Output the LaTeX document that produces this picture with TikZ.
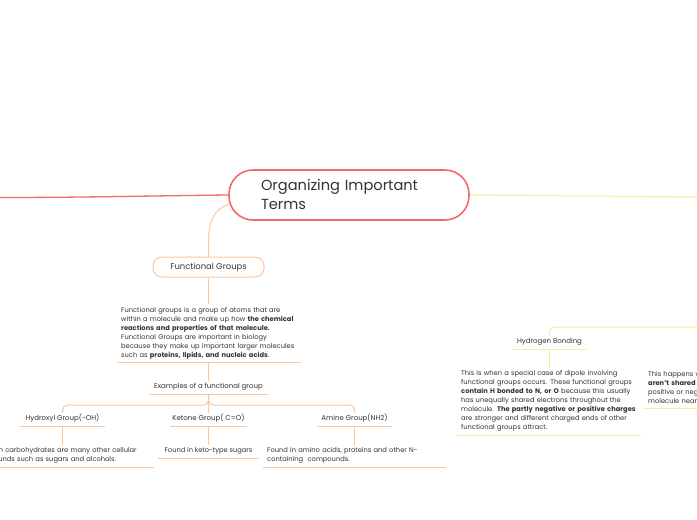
\documentclass[tikz,border=0pt]{standalone}
\usepackage{fontspec}
\setmainfont{Poppins}
\usetikzlibrary{calc}
\definecolor{rootred}{HTML}{F26B6B}
\definecolor{orng}{HTML}{FDC69C}
\definecolor{yllw}{HTML}{F8EC96}
\definecolor{ink}{HTML}{333333}
\tikzset{
  rootbox/.style={draw=rootred, line width=1.6pt, fill=white, rounded corners=24pt,
    minimum width=240pt, minimum height=50pt, text width=176pt, align=left,
    font=\fontsize{14.6}{19}\selectfont, text=ink},
  fgbox/.style={draw=orng, line width=1pt, fill=white, rounded corners=9pt,
    minimum width=111pt, minimum height=20pt, font=\fontsize{8.4}{9}\selectfont, text=ink},
  lbl/.style={inner xsep=0pt, inner ysep=3pt, text height=5pt, text depth=2pt,
    font=\fontsize{7}{9}\selectfont, text=ink},
  txt/.style={inner xsep=4pt, inner ysep=3pt, align=left,
    font=\fontsize{6.7}{9}\selectfont, text=ink},
  oline/.style={draw=orng, line width=1pt},
  yline/.style={draw=yllw, line width=1pt},
}
\begin{document}
\begin{tikzpicture}[x=1pt,y=-1pt]
\useasboundingbox (0,0) rectangle (697,520);
\fill[white] (0,0) rectangle (697,520);
\clip (0,0) rectangle (697,520);

% free ends
\coordinate (leftend) at (-5,197.5);
\coordinate (rightend) at (702,197);
\coordinate (hbend) at (702,327);

% root
\node[rootbox] (root) at (349,195) {Organizing Important\\Terms};
% functional groups branch
\node[fgbox] (fg) at (208.5,267) {Functional Groups};
\node[txt, text width=176pt, anchor=south west] (desc) at (117,362)
 {Functional groups is a group of atoms that are\\
  within a molecule and make up how \textbf{the chemical}\\
  \textbf{reactions and properties of that molecule.}\\
  Functional Groups are important in biology\\
  because they make up important larger molecules\\
  such as \textbf{proteins, lipids, and nucleic acids}.};
\node[lbl, minimum width=119pt, anchor=south] (ex) at (208.5,394) {Examples of a functional group};
\node[lbl, minimum width=85pt, anchor=south] (hyd) at (62.5,426) {Hydroxyl Group(-OH)};
\node[lbl, minimum width=77pt, anchor=south] (ket) at (208.5,426) {Ketone Group( C=O)};
\node[lbl, minimum width=75pt, anchor=south] (ami) at (354.5,426) {Amine Group(NH2)};
\node[txt, text width=176pt, anchor=south west] (hydtxt) at (-30,467)
 {Found in carbohydrates are many other cellular\\compounds such as sugars and alcohols.};
\node[lbl, minimum width=101pt, anchor=south, font=\fontsize{6.7}{9}\selectfont] (kettxt) at (208.5,458) {Found in keto-type sugars};
\node[txt, text width=175pt, anchor=south west] (amitxt) at (263,467)
 {Found in amino acids, proteins and other N-\\containing\ \ compounds.};
% hydrogen bonding branch
\node[lbl, minimum width=73pt, anchor=south] (hb) at (549.5,349) {Hydrogen Bonding};
\node[txt, text width=176pt, anchor=south west] (hbtxt) at (457,435)
 {This is when a special case of dipole involving\\
  functional groups occurs. These functional groups\\
  \textbf{contain H bonded to N, or O} because this usually\\
  has unequally shared electrons throughout the\\
  molecule. \textbf{The partly negative or positive charges}\\
  are stronger and different charged ends of other\\
  functional groups attract.};
\node[txt, text width=176pt, anchor=south west] (rtxt) at (644,408)
 {This happens when\\
  \textbf{aren't shared equally}\\
  positive or negative\\
  molecule nearby};

% main connectors
\draw[draw=rootred, line width=1.3pt] (root.west) .. controls +(-90,1) and +(90,0) .. (leftend);
\draw[yline] (root.east) -- (rightend);
\draw[oline] ($(root.west)+(1,9)$) .. controls +(-15,5) and +(0,-22) .. ($(fg.north)+(0,-14)$) -- (fg.north);
\draw[oline] (fg.south) -- (desc.north -| fg.south);

% underlines
\foreach \n in {desc,ex,hyd,ket,ami,hydtxt,kettxt,amitxt}
  \draw[oline] (\n.south west) -- (\n.south east);
\foreach \n in {hb,hbtxt,rtxt}
  \draw[yline] (\n.south west) -- (\n.south east);

% examples connectors
\draw[oline] (desc.south -| ex.north) -- (ex.north);
\draw[oline, rounded corners=5pt] (ex.south) -- ++(0,11) -| (hyd.north);
\draw[oline, rounded corners=5pt] (ex.south) -- ++(0,11) -| (ami.north);
\draw[oline] (ex.south) -- (ket.north);
\draw[oline] (hyd.south) -- (hydtxt.north -| hyd.south);
\draw[oline] (ket.south) -- (kettxt.north);
\draw[oline] (ami.south) -- (amitxt.north -| ami.south);

% hydrogen bonding connectors
\draw[yline, rounded corners=5pt] (hbend) -| (hb.north);
\draw[yline] (hb.south) -- (hbtxt.north -| hb.south);
\end{tikzpicture}
\end{document}
